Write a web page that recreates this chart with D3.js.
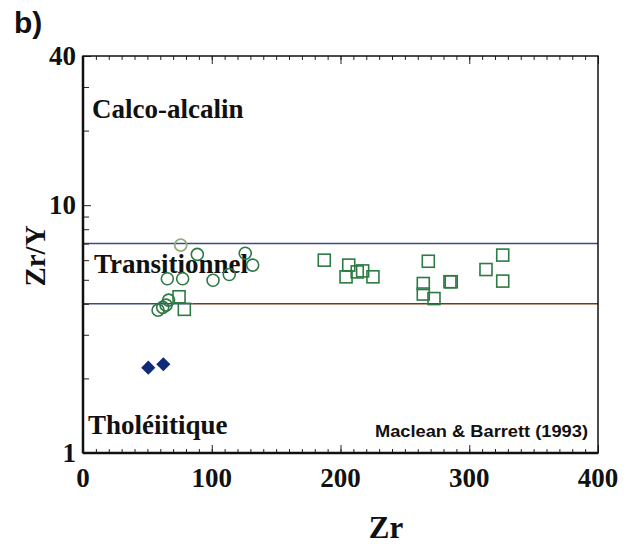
<!DOCTYPE html>
<html lang="fr">
  <head>
    <meta charset="utf-8">
    <title>Zr/Y vs Zr</title>
    <style type="text/css">
      body { margin: 0; background: #fff; }
      svg { display: block; }
      .serif { font-family: "Liberation Serif", "Times New Roman", serif; font-weight: bold; fill: #111; }
      .sans { font-family: "Liberation Sans", Arial, sans-serif; font-weight: bold; fill: #111; }
      .axis path { display: none; }
      .axis line { stroke: #222; }
    </style>
  </head>
  <body>
    <script src="https://d3js.org/d3.v7.min.js"></script>
    <script type="text/javascript">
    // ===================================
    // DATA
    // ===================================
      var xTicks = [0, 100, 200, 300, 400];
      var yTicks = [1, 10, 40];
      var yMinor = [2, 3, 4, 5, 6, 7, 8, 9, 20, 30];

      // limits of the transitional field (Zr/Y)
      var limits = [4, 7];

      // open circles
      var circleZr = [88.8, 126, 131.8, 65.5, 77.4, 101, 113.6, 66.5, 64.5, 61.9, 58.3];
      var circleZrY = [6.33, 6.4, 5.73, 5.05, 5.05, 4.98, 5.25, 4.14, 3.95, 3.87, 3.77];
      // the pale circle on the upper limit
      var paleZr = [75.9];
      var paleZrY = [6.9];

      // open squares
      var squareZr = [74.6, 78.7, 187.4, 206.4, 204.3, 213, 217.2, 225.2, 268.2, 264.3, 264.3, 272.6, 285, 286, 313, 326, 326];
      var squareZrY = [4.27, 3.80, 6.0, 5.73, 5.14, 5.38, 5.43, 5.14, 5.94, 4.83, 4.38, 4.2, 4.91, 4.91, 5.5, 6.29, 4.94];

      // filled diamonds
      var diamondZr = [50.7, 62.4];
      var diamondZrY = [2.21, 2.28];

    // ===================================
    // SVG + SCALES
    // ===================================
      var w = 630, h = 546;
      var pLeft = 83, pRight = 598, pTop = 56, pBottom = 453;

      var svg = d3.select("body").append("svg")
        .attr("width", w)
        .attr("height", h);

      var x = d3.scaleLinear().domain([0, 400]).range([pLeft, pRight]);
      var y = d3.scaleLog().domain([1, 40]).range([pBottom, pTop]);

      function zip(a, b) {
        return a.map(function(d, i) { return [d, b[i]]; });
      }

    // ===================================
    // FIELD LIMITS
    // ===================================
      svg.append("line")
        .attr("x1", x(0)).attr("x2", x(400))
        .attr("y1", y(limits[1])).attr("y2", y(limits[1]))
        .attr("stroke", "#3a4a84").attr("stroke-width", 1.5);
      svg.append("line")
        .attr("x1", x(0)).attr("x2", x(85))
        .attr("y1", y(limits[0])).attr("y2", y(limits[0]))
        .attr("stroke", "#3a4a84").attr("stroke-width", 1.5);
      svg.append("line")
        .attr("x1", x(85)).attr("x2", x(400))
        .attr("y1", y(limits[0])).attr("y2", y(limits[0]))
        .attr("stroke", "#7a3418").attr("stroke-width", 1.5);

    // ===================================
    // AXES (ticks inside the frame)
    // ===================================
      svg.append("g").attr("class", "axis")
        .attr("transform", "translate(0," + pBottom + ")")
        .call(d3.axisBottom(x).ticks(40).tickSize(-4).tickFormat(""));
      svg.append("g").attr("class", "axis")
        .attr("transform", "translate(0," + pBottom + ")")
        .call(d3.axisBottom(x).tickValues(xTicks).tickSize(-8).tickFormat(""));
      svg.append("g").attr("class", "axis")
        .attr("transform", "translate(0," + pTop + ")")
        .call(d3.axisTop(x).ticks(40).tickSize(-4).tickFormat(""))
        .selectAll("line").attr("stroke", "#777");
      svg.append("g").attr("class", "axis")
        .attr("transform", "translate(0," + pTop + ")")
        .call(d3.axisTop(x).tickValues(xTicks).tickSize(-8).tickFormat(""));
      svg.append("g").attr("class", "axis")
        .attr("transform", "translate(" + pLeft + ",0)")
        .call(d3.axisLeft(y).tickValues(yMinor).tickSize(-6).tickFormat(""));
      svg.append("g").attr("class", "axis")
        .attr("transform", "translate(" + pLeft + ",0)")
        .call(d3.axisLeft(y).tickValues(yTicks).tickSize(-8).tickFormat(""));

      // frame
      svg.append("rect")
        .attr("x", pLeft).attr("y", pTop)
        .attr("width", pRight - pLeft).attr("height", pBottom - pTop)
        .attr("fill", "none").attr("stroke", "#111").attr("stroke-width", 1.5);
      svg.append("line")
        .attr("x1", pLeft).attr("x2", pLeft).attr("y1", pTop).attr("y2", pBottom)
        .attr("stroke", "#111").attr("stroke-width", 2.5);
      svg.append("line")
        .attr("x1", pLeft).attr("x2", pRight).attr("y1", pBottom).attr("y2", pBottom)
        .attr("stroke", "#111").attr("stroke-width", 2.5);

      // tick labels
      svg.selectAll(".xlab").data(xTicks).enter().append("text")
        .attr("class", "serif xlab")
        .attr("x", function(d) { return x(d); })
        .attr("y", 487)
        .attr("text-anchor", "middle")
        .attr("font-size", 27)
        .text(function(d) { return d; });
      svg.selectAll(".ylab").data(yTicks).enter().append("text")
        .attr("class", "serif ylab")
        .attr("x", 76)
        .attr("y", function(d) { return y(d) + 9; })
        .attr("text-anchor", "end")
        .attr("font-size", 27)
        .text(function(d) { return d; });

      // axis titles
      svg.append("text").attr("class", "serif")
        .attr("x", 386).attr("y", 538)
        .attr("text-anchor", "middle")
        .attr("font-size", 31)
        .text("Zr");
      svg.append("text").attr("class", "serif")
        .attr("transform", "translate(45,256) rotate(-90)")
        .attr("text-anchor", "middle")
        .attr("font-size", 29)
        .text("Zr/Y");

      svg.append("text").attr("class", "sans")
        .attr("x", 14).attr("y", 33)
        .attr("font-size", 30)
        .text("b)");

      // field names
      svg.append("text").attr("class", "serif")
        .attr("x", 92).attr("y", 118).attr("font-size", 27)
        .text("Calco-alcalin");
      svg.append("text").attr("class", "serif")
        .attr("x", 94).attr("y", 273).attr("font-size", 27)
        .text("Transitionnel");
      svg.append("text").attr("class", "serif")
        .attr("x", 88).attr("y", 434).attr("font-size", 27)
        .text("Tholéiitique");
      svg.append("text").attr("class", "sans")
        .attr("x", 588).attr("y", 437)
        .attr("text-anchor", "end")
        .attr("font-size", 16)
        .attr("textLength", 213)
        .attr("lengthAdjust", "spacingAndGlyphs")
        .text("Maclean & Barrett (1993)");

    // ===================================
    // POINTS
    // ===================================
      svg.selectAll(".sq").data(zip(squareZr, squareZrY)).enter().append("rect")
        .attr("class", "sq")
        .attr("x", function(d) { return x(d[0]) - 6; })
        .attr("y", function(d) { return y(d[1]) - 6; })
        .attr("width", 12).attr("height", 12)
        .attr("fill", "none")
        .attr("stroke", "#2d7a43")
        .attr("stroke-width", 1.6);

      svg.selectAll(".ci").data(zip(circleZr, circleZrY)).enter().append("circle")
        .attr("class", "ci")
        .attr("cx", function(d) { return x(d[0]); })
        .attr("cy", function(d) { return y(d[1]); })
        .attr("r", 6)
        .attr("fill", "none")
        .attr("stroke", "#2d7a43")
        .attr("stroke-width", 1.6);

      svg.selectAll(".pale").data(zip(paleZr, paleZrY)).enter().append("circle")
        .attr("class", "pale")
        .attr("cx", function(d) { return x(d[0]); })
        .attr("cy", function(d) { return y(d[1]); })
        .attr("r", 6)
        .attr("fill", "none")
        .attr("stroke", "#8fb07a")
        .attr("stroke-width", 1.8);

      var diamond = d3.symbol().type(d3.symbolSquare).size(100);
      svg.selectAll(".dm").data(zip(diamondZr, diamondZrY)).enter().append("path")
        .attr("class", "dm")
        .attr("d", diamond)
        .attr("transform", function(d) {
          return "translate(" + x(d[0]) + "," + y(d[1]) + ") rotate(45)";
        })
        .attr("fill", "#0e2a78");
    </script>
  </body>
</html>
